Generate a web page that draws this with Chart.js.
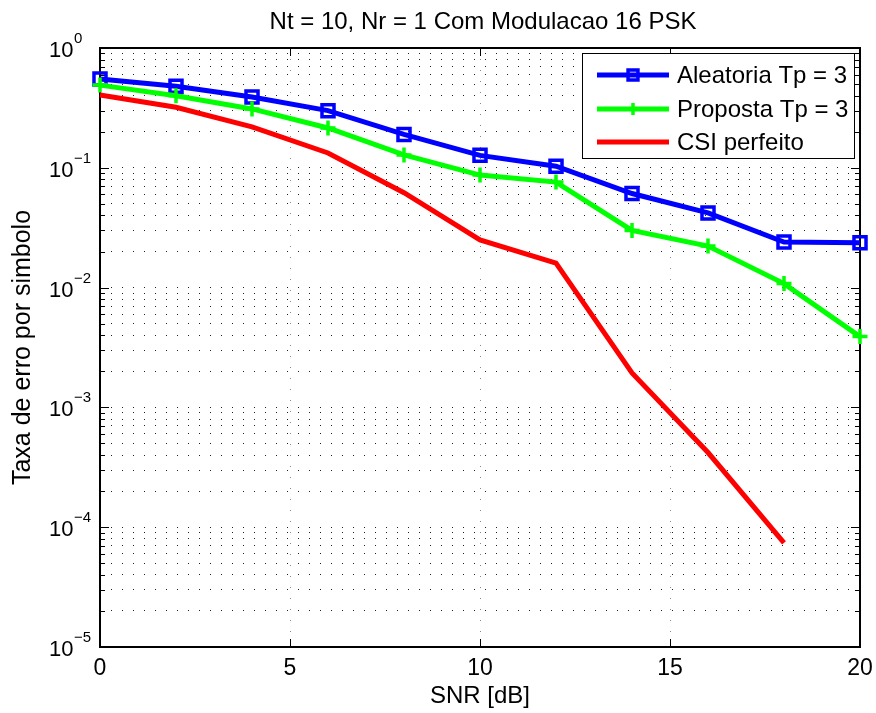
<!DOCTYPE html>
<html>
<head>
<meta charset="utf-8">
<script src="https://cdn.jsdelivr.net/npm/chart.js@4.4.0/dist/chart.umd.min.js"></script>
<style>
  html, body { margin: 0; padding: 0; background: #fff; }
  #wrap { width: 876px; height: 713px; }
</style>
</head>
<body>
<div id="wrap"><canvas id="chart"></canvas></div>
<script>
const snr = [0, 2, 4, 6, 8, 10, 12, 14, 16, 18, 20];
const aleatoria = [0.55, 0.48, 0.39, 0.30, 0.19, 0.127, 0.103, 0.061, 0.042, 0.024, 0.0237];
const proposta = [0.49, 0.40, 0.31, 0.215, 0.128, 0.087, 0.076, 0.030, 0.0222, 0.0108, 0.0039];
const csiPerfeito = [0.405, 0.32, 0.22, 0.133, 0.062, 0.025, 0.016, 0.00194, 0.00042, 0.000074, null];
const seriesLabels = ["Aleatoria Tp = 3", "Proposta Tp = 3", "CSI perfeito"];
const xTicks = [0, 5, 10, 15, 20];
const yDecades = [-5, -4, -3, -2, -1, 0];

const FONT = '"Liberation Sans", Arial, Helvetica, sans-serif';

const toPoints = (ys) => snr.map((x, i) => ({ x: x, y: ys[i] }));

// MATLAB-ish decorations: box, inner ticks, title, y labels with exponents, legend
const matlabDecor = {
  id: "matlabDecor",
  beforeDatasetsDraw(chart) {
    const { ctx, chartArea: a, scales } = chart;
    ctx.save();
    ctx.strokeStyle = "#000";
    ctx.lineWidth = 1;
    scales.y.ticks.forEach(t => {
      const y = Math.round(scales.y.getPixelForValue(t.value)) + 0.5;
      const len = Math.abs(Math.log10(t.value) % 1) < 1e-6 ? 9 : 5;
      ctx.beginPath();
      ctx.moveTo(a.left, y); ctx.lineTo(a.left + len, y);
      ctx.moveTo(a.right, y); ctx.lineTo(a.right - len, y);
      ctx.stroke();
    });
    xTicks.forEach(v => {
      const x = Math.round(scales.x.getPixelForValue(v)) + 0.5;
      ctx.beginPath();
      ctx.moveTo(x, a.bottom); ctx.lineTo(x, a.bottom - 8);
      ctx.moveTo(x, a.top); ctx.lineTo(x, a.top + 8);
      ctx.stroke();
    });
    ctx.lineWidth = 2;
    ctx.strokeRect(a.left, a.top, a.right - a.left, a.bottom - a.top);
    ctx.restore();
  },
  afterDraw(chart) {
    const { ctx, chartArea: a, scales } = chart;
    ctx.save();
    ctx.fillStyle = "#000";
    // title
    ctx.font = "24px " + FONT;
    ctx.textAlign = "center";
    ctx.textBaseline = "alphabetic";
    ctx.fillText("Nt = 10, Nr = 1 Com Modulacao 16 PSK", (a.left + a.right) / 2 + 3, 29);
    // y tick labels 10^n
    ctx.textAlign = "left";
    yDecades.forEach(e => {
      const y = scales.y.getPixelForValue(Math.pow(10, e));
      ctx.font = "22px " + FONT;
      ctx.fillText("10", 49, y + 9);
      ctx.font = "15px " + FONT;
      ctx.fillText(e < 0 ? "\u2212" + (-e) : String(e), 74, y - 5);
    });
    // legend
    const bx = 582, by = 53, bw = 272, bh = 105;
    ctx.fillStyle = "#fff";
    ctx.fillRect(bx, by, bw, bh);
    ctx.strokeStyle = "#000";
    ctx.lineWidth = 1;
    ctx.strokeRect(bx + 0.5, by + 0.5, bw, bh);
    const rows = [75, 109, 142];
    chart.data.datasets.forEach((ds, i) => {
      const y = rows[i];
      ctx.strokeStyle = ds.borderColor;
      ctx.lineWidth = ds.borderWidth;
      ctx.beginPath();
      ctx.moveTo(597, y); ctx.lineTo(669, y);
      ctx.stroke();
      if (ds.pointRadius > 0) {
        ctx.lineWidth = ds.pointBorderWidth;
        ctx.strokeStyle = ds.pointBorderColor;
        ctx.fillStyle = "rgba(0,0,0,0)";
        Chart.helpers.drawPoint(ctx, { pointStyle: ds.pointStyle, radius: ds.pointRadius - 1.5, rotation: 0, borderWidth: ds.pointBorderWidth }, 633, y);
      }
      ctx.fillStyle = "#000";
      ctx.font = "24px " + FONT;
      ctx.textBaseline = "middle";
      ctx.fillText(ds.label, 677, y + 1);
    });
    ctx.restore();
  }
};

new Chart(document.getElementById("chart"), {
  type: "line",
  data: {
    datasets: [
      {
        label: seriesLabels[0],
        data: toPoints(aleatoria),
        borderColor: "#0000ff",
        borderWidth: 5,
        pointStyle: "rect",
        pointRadius: 8.5,
        pointBorderWidth: 3.5,
        pointBorderColor: "#0000ff",
        pointBackgroundColor: "rgba(0,0,0,0)",
        order: 3,
        clip: false
      },
      {
        label: seriesLabels[1],
        data: toPoints(proposta),
        borderColor: "#00ff00",
        borderWidth: 5,
        pointStyle: "cross",
        pointRadius: 7.5,
        pointBorderWidth: 3.5,
        pointBorderColor: "#00ff00",
        order: 2,
        clip: false
      },
      {
        label: seriesLabels[2],
        data: toPoints(csiPerfeito),
        borderColor: "#ff0000",
        borderWidth: 5,
        pointRadius: 0,
        order: 1,
        clip: false
      }
    ]
  },
  options: {
    responsive: true,
    maintainAspectRatio: false,
    animation: false,
    events: [],
    layout: { padding: { top: 48, right: 16, bottom: 0, left: 0 } },
    plugins: {
      legend: { display: false },
      title: { display: false },
      tooltip: { enabled: false }
    },
    scales: {
      x: {
        type: "linear",
        min: 0,
        max: 20,
        afterBuildTicks: (scale) => { scale.ticks = xTicks.map(v => ({ value: v })); },
        afterFit: (scale) => { scale.height = 66; scale.paddingLeft = 0; scale.paddingRight = 0; },
        ticks: { color: "#000", font: { family: FONT, size: 23 }, padding: 8 },
        grid: { color: "#888", lineWidth: 1, drawTicks: false },
        border: { display: false, dash: [1, 10] },
        title: { display: true, text: "SNR [dB]", color: "#000", font: { family: FONT, size: 24 }, padding: { top: 0, bottom: 2 } }
      },
      y: {
        type: "logarithmic",
        min: 1e-5,
        max: 1,
        afterBuildTicks: (scale) => {
          const t = [];
          yDecades.forEach(e => {
            for (let m = 1; m <= 9; m++) {
              const v = m * Math.pow(10, e);
              if (v <= 1.0000001) t.push({ value: v });
            }
          });
          scale.ticks = t;
        },
        afterFit: (scale) => { scale.width = 100; scale.paddingTop = 0; scale.paddingBottom = 0; },
        ticks: { display: false },
        grid: { color: "#222", lineWidth: 1, drawTicks: false },
        border: { display: false, dash: [1, 10] },
        title: { display: true, text: "Taxa de erro por simbolo", color: "#000", font: { family: FONT, size: 25 }, padding: { top: 8, bottom: 0 } }
      }
    }
  },
  plugins: [matlabDecor]
});
</script>
</body>
</html>
